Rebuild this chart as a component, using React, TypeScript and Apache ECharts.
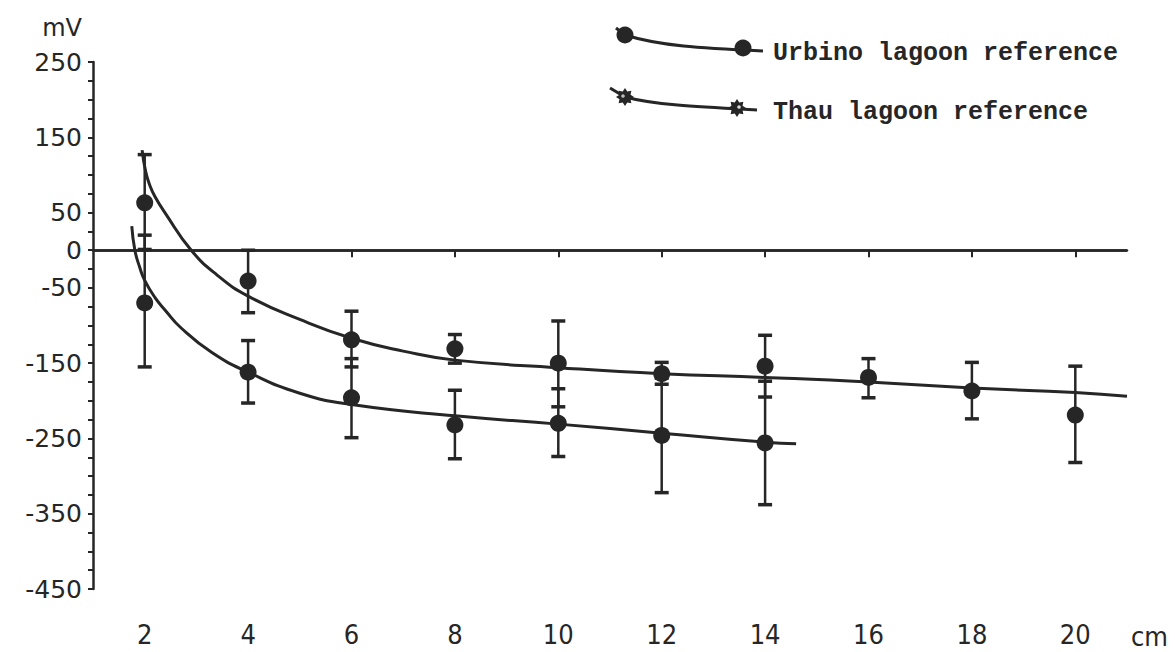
import React, { useEffect, useRef } from "react";
import * as echarts from "echarts";

// ---- data ----
const depthCm = [2, 4, 6, 8, 10, 12, 14, 16, 18, 20];
const urbinoMean = [63, -41, -119, -131, -150, -164, -154, -169, -187, -219];
const urbinoHigh = [127, 0, -81, -112, -94, -149, -113, -144, -149, -154];
const urbinoLow = [1, -83, -155, -150, -208, -178, -195, -196, -224, -282];

const thauDepthCm = [2, 4, 6, 8, 10, 12, 14];
const thauMean = [-70, -162, -196, -232, -230, -246, -256];
const thauHigh = [20, -120, -144, -186, -184, -170, -174];
const thauLow = [-155, -203, -249, -277, -274, -322, -338];

// fitted curves
const urbinoCurveX = [1.95, 2.02, 2.1, 2.2, 2.4, 2.9, 3.4, 4, 5, 6, 7, 8, 10, 12, 14, 16, 18, 20, 21];
const urbinoCurveY = [133, 104, 86, 71, 49, 0, -33, -61, -92, -117, -134, -146, -156, -164, -169, -175, -183, -189, -194];
const thauCurveX = [1.75, 1.81, 1.9, 2.0, 2.2, 2.4, 2.7, 3.3, 4, 5, 6, 8, 10, 12, 14, 14.6];
const thauCurveY = [32, 0, -22, -40, -63, -80, -103, -136, -162, -190, -205, -220, -231, -243, -255, -257];

const xTickValues = [2, 4, 6, 8, 10, 12, 14, 16, 18, 20];
const yLabelValues = [250, 150, 50, 0, -50, -150, -250, -350, -450];

const legendNames = ["Urbino lagoon reference", "Thau lagoon reference"];
const xUnit = "cm";

const INK = "#262626";
const AXIS_FONT = "'DejaVu Sans', 'Open Sans', sans-serif";
const XLABEL_FONT = "'Liberation Sans Narrow', 'DejaVu Sans Condensed', 'DejaVu Sans', sans-serif";
const MONO = "'Liberation Mono', 'DejaVu Sans Mono', monospace";

function starPoints(cx: number, cy: number, rOut: number, rIn: number, n: number) {
  const pts: number[][] = [];
  for (let i = 0; i < n * 2; i++) {
    const r = i % 2 === 0 ? rOut : rIn;
    const a = (Math.PI * i) / n;
    pts.push([cx + r * Math.cos(a), cy + r * Math.sin(a)]);
  }
  return pts;
}

function errorBarRender(params: any, api: any) {
  const x = api.value(0);
  const hi = api.value(1);
  const lo = api.value(2);
  const top = api.coord([x, hi]);
  const bot = api.coord([x, lo]);
  const half = 7;
  return {
    type: "group",
    children: [
      { type: "line", shape: { x1: top[0], y1: top[1], x2: bot[0], y2: bot[1] }, style: { stroke: INK, lineWidth: 2.5 } },
      { type: "line", shape: { x1: top[0] - half, y1: top[1], x2: top[0] + half, y2: top[1] }, style: { stroke: INK, lineWidth: 3.5 } },
      { type: "line", shape: { x1: bot[0] - half, y1: bot[1], x2: bot[0] + half, y2: bot[1] }, style: { stroke: INK, lineWidth: 3.5 } },
    ],
  };
}

export default function App() {
  const ref = useRef<HTMLDivElement>(null);

  useEffect(() => {
    if (!ref.current) return;
    const chart = echarts.init(ref.current, undefined, { renderer: "svg" });

    const urbinoCurve = urbinoCurveX.map((x, i) => [x, urbinoCurveY[i]]);
    const thauCurve = thauCurveX.map((x, i) => [x, thauCurveY[i]]);
    const urbinoBars = depthCm.map((x, i) => [x, urbinoHigh[i], urbinoLow[i]]);
    const thauBars = thauDepthCm.map((x, i) => [x, thauHigh[i], thauLow[i]]);
    const urbinoPts = depthCm.map((x, i) => [x, urbinoMean[i]]);
    const thauPts = thauDepthCm.map((x, i) => [x, thauMean[i]]);

    const thauStarL = starPoints(625, 97, 9, 6, 8);
    const thauStarR = starPoints(737, 108, 9, 6, 8);

    chart.setOption({
      animation: false,
      backgroundColor: "#ffffff",
      grid: { left: 93, right: 48, top: 62, bottom: 63, outerBoundsMode: "none" },
      xAxis: {
        type: "value",
        min: 1,
        max: 21,
        splitLine: { show: false },
        axisLine: { lineStyle: { color: INK, width: 2.5 } },
        axisTick: { customValues: xTickValues, length: 7, lineStyle: { color: INK, width: 2 } },
        axisLabel: {
          customValues: xTickValues,
          color: INK,
          fontSize: 27,
          fontFamily: XLABEL_FONT,
          margin: 32,
        },
      },
      yAxis: {
        type: "value",
        min: -450,
        max: 250,
        interval: 25,
        splitLine: { show: false },
        axisLine: { lineStyle: { color: INK, width: 2.5 } },
        axisTick: { length: 5, lineStyle: { color: INK, width: 2 } },
        axisLabel: {
          customValues: yLabelValues,
          color: INK,
          fontSize: 25,
          fontFamily: AXIS_FONT,
          margin: 11,
        },
        name: "mV",
        nameLocation: "end",
        nameGap: 22,
        nameTextStyle: {
          color: INK,
          fontSize: 24,
          fontFamily: AXIS_FONT,
          align: "right",
          padding: [0, 11, 0, 0],
        },
      },
      series: [
        {
          name: legendNames[0] + " fit",
          type: "line",
          data: urbinoCurve,
          smooth: 0.5,
          showSymbol: false,
          lineStyle: { color: INK, width: 3 },
          z: 2,
          markLine: {
            silent: true,
            symbol: "none",
            label: { show: false },
            lineStyle: { color: INK, width: 2.5, type: "solid" },
            data: [{ yAxis: 0 }],
          },
        },
        {
          name: legendNames[1] + " fit",
          type: "line",
          data: thauCurve,
          smooth: 0.5,
          showSymbol: false,
          lineStyle: { color: INK, width: 3 },
          z: 2,
        },
        {
          name: legendNames[0] + " error",
          type: "custom",
          data: urbinoBars,
          encode: { x: 0, y: [1, 2] },
          renderItem: errorBarRender,
          z: 3,
        },
        {
          name: legendNames[1] + " error",
          type: "custom",
          data: thauBars,
          encode: { x: 0, y: [1, 2] },
          renderItem: errorBarRender,
          z: 3,
        },
        {
          name: legendNames[0],
          type: "scatter",
          data: urbinoPts,
          symbol: "circle",
          symbolSize: 17,
          itemStyle: { color: INK, opacity: 1 },
          z: 4,
        },
        {
          name: legendNames[1],
          type: "scatter",
          data: thauPts,
          symbol: "circle",
          symbolSize: 17,
          itemStyle: { color: INK, opacity: 1 },
          z: 4,
        },
      ],
      graphic: [
        // x unit
        {
          type: "text",
          style: { x: 1131, y: 636, text: xUnit, fill: INK, font: `27px ${XLABEL_FONT}`, verticalAlign: "middle" },
        },
        // Urbino legend glyph
        { type: "line", shape: { x1: 616, y1: 28, x2: 625, y2: 35 }, style: { stroke: INK, lineWidth: 3 } },
        {
          type: "bezierCurve",
          shape: { x1: 625, y1: 35, cpx1: 660, cpy1: 46, cpx2: 700, cpy2: 48, x2: 763, y2: 51 },
          style: { stroke: INK, lineWidth: 3, fill: "none" },
        },
        { type: "circle", shape: { cx: 625, cy: 35, r: 8.5 }, style: { fill: INK } },
        { type: "circle", shape: { cx: 743, cy: 48, r: 8.5 }, style: { fill: INK } },
        {
          type: "text",
          style: { x: 773, y: 53, text: legendNames[0], fill: INK, font: `bold 25px ${MONO}`, verticalAlign: "middle" },
        },
        // Thau legend glyph
        { type: "line", shape: { x1: 610, y1: 88, x2: 625, y2: 97 }, style: { stroke: INK, lineWidth: 3 } },
        {
          type: "bezierCurve",
          shape: { x1: 625, y1: 97, cpx1: 655, cpy1: 105, cpx2: 700, cpy2: 107, x2: 757, y2: 110 },
          style: { stroke: INK, lineWidth: 3, fill: "none" },
        },
        { type: "polygon", shape: { points: thauStarL }, style: { fill: INK } },
        { type: "polygon", shape: { points: thauStarR }, style: { fill: INK } },
        { type: "circle", shape: { cx: 623, cy: 96, r: 1.8 }, style: { fill: "#bbbbbb" } },
        { type: "circle", shape: { cx: 739, cy: 107, r: 1.8 }, style: { fill: "#dddddd" } },
        {
          type: "text",
          style: { x: 773, y: 112, text: legendNames[1], fill: INK, font: `bold 25px ${MONO}`, verticalAlign: "middle" },
        },
      ],
    });

    return () => {
      chart.dispose();
    };
  }, []);

  return (
    <div
      ref={ref}
      style={{ position: "absolute", left: 0, top: 0, width: 1175, height: 652, background: "#ffffff" }}
    />
  );
}
